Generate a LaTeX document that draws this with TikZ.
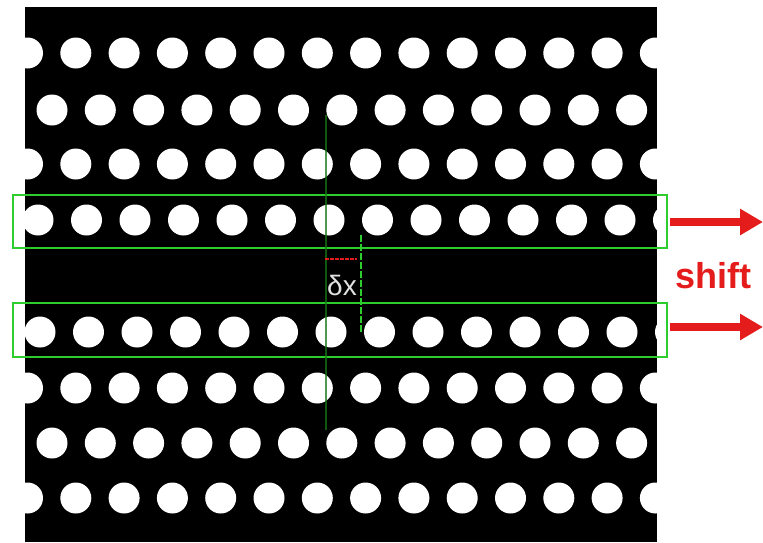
\documentclass[tikz,border=0pt]{standalone}
\usepackage{fontspec}
\setmainfont{Liberation Sans}
\usetikzlibrary{arrows.meta}
\definecolor{boxgreen}{RGB}{45,205,45}
\definecolor{lingreen}{RGB}{20,120,20}
\definecolor{shiftred}{RGB}{228,28,28}
\definecolor{labelgray}{RGB}{225,225,225}
\begin{document}
\begin{tikzpicture}[x=1pt,y=-1pt,
  hole/.style={fill=white},
  rowbox/.style={draw=boxgreen,line width=2.6pt},
  bigarrow/.style={draw=shiftred,line width=8pt,-{Triangle[length=23pt,width=25pt]}},
  refline/.style={draw=lingreen,line width=2pt,opacity=0.75},
  shiftline/.style={draw=boxgreen,line width=1.8pt,dash pattern=on 7pt off 2pt},
  dxline/.style={draw=shiftred,line width=2pt,dash pattern=on 4pt off 1pt},
  dxlabel/.style={text=labelgray,font=\fontsize{28}{28}\selectfont,inner sep=0pt},
  shiftlabel/.style={text=shiftred,font=\fontsize{36}{36}\selectfont\bfseries,inner sep=0pt}]
\useasboundingbox (0,0) rectangle (763,542);
\fill[black] (25,7) rectangle (657,542);
\begin{scope}
  \clip (25,7) rectangle (657,542);
  \foreach \y in {53,164,388,498}
    \foreach \k in {0,...,13}
      \fill[hole] (27.5+48.3*\k,\y) circle (15.5);
  \foreach \y in {110,443}
    \foreach \k in {0,...,12}
      \fill[hole] (52+48.3*\k,\y) circle (15.5);
  \foreach \k in {0,...,13}
    \fill[hole] (38+48.5*\k,220) circle (15.5);
  \foreach \k in {0,...,13}
    \fill[hole] (40+48.5*\k,332) circle (15.5);
\end{scope}
% row boxes
\draw[rowbox] (13,195) rectangle (667,248);
\draw[rowbox] (13,303) rectangle (667,357);
% reference lines
\coordinate (reftop) at (326,115);
\coordinate (refbot) at (326,430);
\draw[refline] (reftop) -- (refbot);
\coordinate (shtop) at (361,235);
\coordinate (shbot) at (361,333);
\draw[shiftline] (shtop) -- (shbot);
\coordinate (dxa) at (325,259);
\coordinate (dxb) at (357,259);
\draw[dxline] (dxa) -- (dxb);
\node[dxlabel] (dx) at (342,285) {δx};
% shift arrows
\coordinate (a1s) at (670,222);
\coordinate (a1e) at (763,222);
\draw[bigarrow] (a1s) -- (a1e);
\coordinate (a2s) at (670,327);
\coordinate (a2e) at (763,327);
\draw[bigarrow] (a2s) -- (a2e);
\node[shiftlabel] (shift) at (713,276) {shift};
\end{tikzpicture}
\end{document}
